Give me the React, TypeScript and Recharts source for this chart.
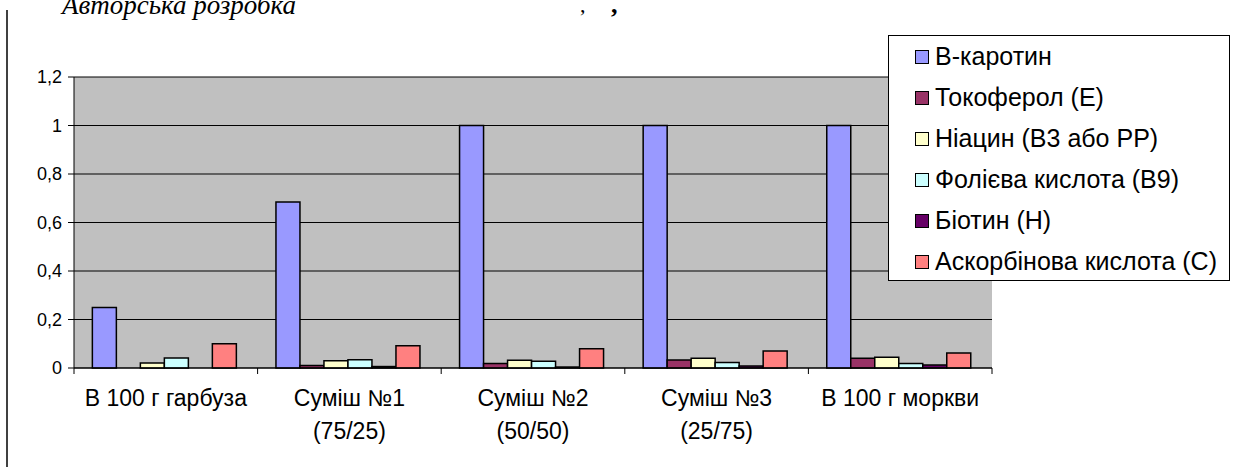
import { BarChart, Bar, XAxis, YAxis, CartesianGrid } from "recharts";

const categories = [
  "В 100 г гарбуза",
  "Суміш №1\n(75/25)",
  "Суміш №2\n(50/50)",
  "Суміш №3\n(25/75)",
  "В 100 г моркви",
];

const seriesNames = [
  "В-каротин",
  "Токоферол (Е)",
  "Ніацин (В3 або РР)",
  "Фолієва кислота (В9)",
  "Біотин (Н)",
  "Аскорбінова кислота (С)",
];

const betaCarotene = [0.25, 0.685, 1, 1, 1];
const tocopherol = [0, 0.01, 0.019, 0.033, 0.04];
const niacin = [0.021, 0.03, 0.032, 0.04, 0.044];
const folicAcid = [0.041, 0.034, 0.028, 0.023, 0.019];
const biotin = [0, 0.006, 0.004, 0.008, 0.012];
const ascorbicAcid = [0.1, 0.092, 0.079, 0.07, 0.062];

const yTicks = [0, 0.2, 0.4, 0.6, 0.8, 1, 1.2];

const colors = ["#9999FF", "#993366", "#FFFFCC", "#CCFFFF", "#660066", "#FF8080"];
const values = [betaCarotene, tocopherol, niacin, folicAcid, biotin, ascorbicAcid];

const data = categories.map((name, i) => {
  const row: Record<string, string | number> = { name };
  values.forEach((arr, s) => {
    row["s" + s] = arr[i];
  });
  return row;
});

const FONT = "'Liberation Sans', Arial, sans-serif";

// Excel puts the category ticks between the groups, so draw them in the tick itself
function CategoryTick(props: any) {
  const { x, y, payload, width, index } = props;
  const half = payload && payload.offset ? payload.offset : width / categories.length / 2;
  const lines = String(payload.value).split("\n");
  return (
    <g>
      <line x1={x - half} y1={y} x2={x - half} y2={y + 6} stroke="#000" />
      {index === categories.length - 1 && <line x1={x + half} y1={y} x2={x + half} y2={y + 6} stroke="#000" />}
      <text x={x} y={y} textAnchor="middle" fontSize={23} fontFamily={FONT} fill="#000">
        {lines.map((line, i) => (
          <tspan key={i} x={x} dy={i === 0 ? 38 : 33}>
            {line}
          </tspan>
        ))}
      </text>
    </g>
  );
}

export default function App() {
  return (
    <div style={{ position: "absolute", left: 0, top: 0, width: 1242, height: 467, background: "#fff", overflow: "hidden" }}>
      <svg width={1242} height={467} style={{ position: "absolute", left: 0, top: 0 }}>
        <line x1={7} y1={10} x2={7} y2={467} stroke="#000" strokeWidth={1.5} />
        <text x={62} y={14} fontSize={27} fontStyle="italic" fontFamily="'Liberation Serif', 'Times New Roman', serif" fill="#000">
          Авторська розробка
        </text>
        <text x={580} y={12} fontSize={22} fontFamily="'Liberation Serif', serif" fill="#000">,</text>
        <text x={611} y={13} fontSize={26} fontWeight="bold" fontFamily="'Liberation Serif', serif" fill="#000">,</text>
      </svg>
      <div style={{ position: "absolute", left: 0, top: 0 }}>
        <BarChart
          width={1242}
          height={467}
          data={data}
          margin={{ top: 77, right: 250, bottom: 0, left: 0 }}
          barCategoryGap="10%"
          barGap={0}
        >
          <CartesianGrid fill="#C0C0C0" fillOpacity={1} stroke="#000" vertical={false} />
          <XAxis
            dataKey="name"
            height={99}
            interval={0}
            axisLine={{ stroke: "#000" }}
            tickLine={false}
            tickSize={0}
            tickMargin={0}
            tick={<CategoryTick />}
          />
          <YAxis
            width={74}
            domain={[0, 1.2]}
            ticks={yTicks}
            axisLine={{ stroke: "#000" }}
            tickLine={{ stroke: "#000" }}
            tickSize={6}
            tickMargin={6}
            tick={{ fill: "#000", fontSize: 18, fontFamily: FONT }}
            tickFormatter={(v: number) => String(v).replace(".", ",")}
          />
          <YAxis
            yAxisId="r"
            orientation="right"
            width={0}
            domain={[0, 1.2]}
            tick={false}
            tickLine={false}
            axisLine={{ stroke: "#808080" }}
          />
          {seriesNames.map((name, s) => (
            <Bar
              key={name}
              dataKey={"s" + s}
              name={name}
              fill={colors[s]}
              stroke="#000"
              strokeWidth={1.5}
              isAnimationActive={false}
            />
          ))}
        </BarChart>
      </div>
      <div
        style={{
          position: "absolute",
          left: 888,
          top: 35,
          width: 342,
          height: 246,
          boxSizing: "border-box",
          border: "1px solid #000",
          background: "#fff",
          fontFamily: FONT,
          fontSize: 25,
        }}
      >
        {seriesNames.map((name, s) => (
          <div key={name} style={{ height: 41, display: "flex", alignItems: "center", paddingLeft: 26 }}>
            <span
              style={{
                display: "inline-block",
                width: 12,
                height: 12,
                border: "1px solid #000",
                background: colors[s],
                marginRight: 6,
              }}
            />
            <span style={{ whiteSpace: "nowrap" }}>{name}</span>
          </div>
        ))}
      </div>
    </div>
  );
}
